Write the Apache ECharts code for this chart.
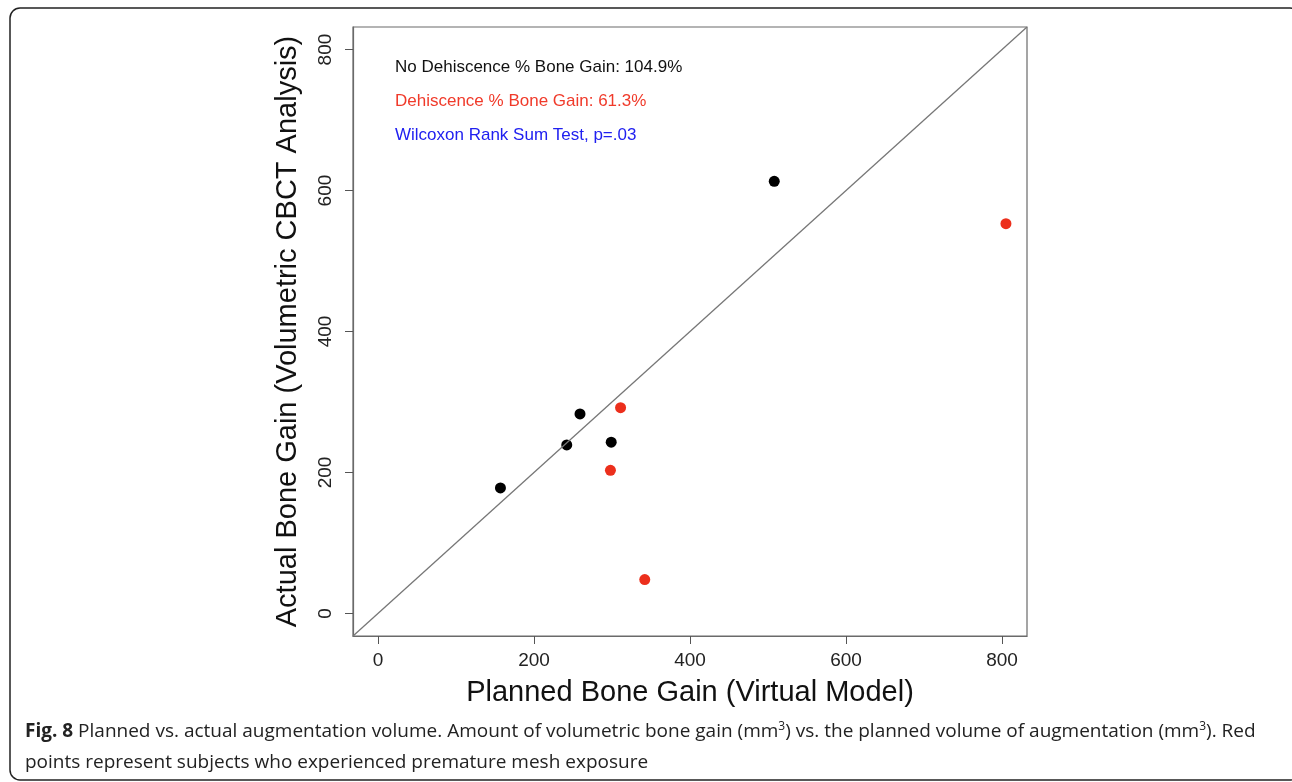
<!DOCTYPE html>
<html>
<head>
<meta charset="utf-8">
<script src="https://cdn.jsdelivr.net/npm/echarts@6/dist/echarts.min.js"></script>
<style>
  html, body { margin: 0; padding: 0; background: #fff; }
  #main { width: 1292px; height: 782px; }
</style>
</head>
<body>
<div id="main"></div>
<script>
// axis limits (R style 4% extension of 0..800)
var axisMin = -32;
var axisMax = 832;
var tickValues = [0, 200, 400, 600, 800];

// [planned, actual]
var noDehiscence = [[157, 178], [242, 239], [259, 283], [299, 243], [508, 613]];
var dehiscence = [[311, 292], [298, 203], [342, 48], [805, 553]];

// identity line y = x across the plot
var identityLine = [[axisMin, axisMin], [axisMax, axisMax]];

var notes = [
  'No Dehiscence % Bone Gain: 104.9%',
  'Dehiscence % Bone Gain: 61.3%',
  'Wilcoxon Rank Sum Test, p=.03'
];

var myChart = echarts.init(document.getElementById('main'));

var font = 'Liberation Sans, Arial, sans-serif';

var option = {
  animation: false,
  grid: {
    left: 353, right: 265, top: 27, bottom: 146,
    show: true, borderColor: '#6a6a6a', borderWidth: 1.2
  },
  xAxis: {
    type: 'value',
    min: axisMin, max: axisMax,
    name: 'Planned Bone Gain (Virtual Model)',
    nameLocation: 'middle',
    nameGap: 42,
    nameTextStyle: { fontFamily: font, fontSize: 29, color: '#111' },
    axisLine: { show: true, onZero: false, lineStyle: { color: '#6a6a6a', width: 1.2 } },
    splitLine: { show: false },
    axisTick: { show: true, length: 8, customValues: tickValues, lineStyle: { color: '#555' } },
    axisLabel: { customValues: tickValues, margin: 15, fontFamily: font, fontSize: 19, color: '#222' }
  },
  yAxis: {
    type: 'value',
    min: axisMin, max: axisMax,
    name: 'Actual Bone Gain (Volumetric CBCT Analysis)',
    nameLocation: 'middle',
    nameGap: 51,
    nameTextStyle: { fontFamily: font, fontSize: 29, color: '#111' },
    axisLine: { show: true, onZero: false, lineStyle: { color: '#6a6a6a', width: 1.2 } },
    splitLine: { show: false },
    axisTick: { show: true, length: 8, customValues: tickValues, lineStyle: { color: '#555' } },
    axisLabel: { customValues: tickValues, rotate: 90, margin: 18, fontFamily: font, fontSize: 19, color: '#222' }
  },
  graphic: [
    {
      type: 'rect', silent: true,
      shape: { x: 10, y: 8, width: 1290, height: 772, r: 10 },
      style: { fill: 'none', stroke: '#222', lineWidth: 1.5 }
    },
    {
      type: 'text', left: 395, top: 59,
      style: { text: notes[0], fill: '#111', font: '17px ' + font }
    },
    {
      type: 'text', left: 395, top: 93,
      style: { text: notes[1], fill: '#f03a2a', font: '17px ' + font }
    },
    {
      type: 'text', left: 395, top: 127,
      style: { text: notes[2], fill: '#2020f0', font: '17px ' + font }
    },
    {
      type: 'text', left: 25, top: 716,
      style: {
        text: '{b|Fig. 8} Planned vs. actual augmentation volume. Amount of volumetric bone gain (mm{s|3}) vs. the planned volume of augmentation (mm{s|3}). Red\npoints represent subjects who experienced premature mesh exposure',
        fill: '#222',
        font: '19px Open Sans',
        lineHeight: 31,
        rich: {
          b: { fontWeight: 'bold', fontFamily: 'Open Sans', fontSize: 19, fill: '#222' },
          s: { fontFamily: 'Open Sans', fontSize: 12, padding: [0, 0, 10, 0], fill: '#222' }
        }
      }
    }
  ],
  series: [
    {
      type: 'line',
      data: identityLine,
      symbol: 'none',
      silent: true,
      lineStyle: { color: '#777', width: 1.3 }
    },
    {
      name: 'No Dehiscence',
      type: 'scatter',
      data: noDehiscence,
      symbolSize: 11,
      itemStyle: { color: '#000', opacity: 1 }
    },
    {
      name: 'Dehiscence',
      type: 'scatter',
      data: dehiscence,
      symbolSize: 11,
      itemStyle: { color: '#ec2f1c', opacity: 1 }
    }
  ]
};

myChart.setOption(option);
</script>
</body>
</html>
